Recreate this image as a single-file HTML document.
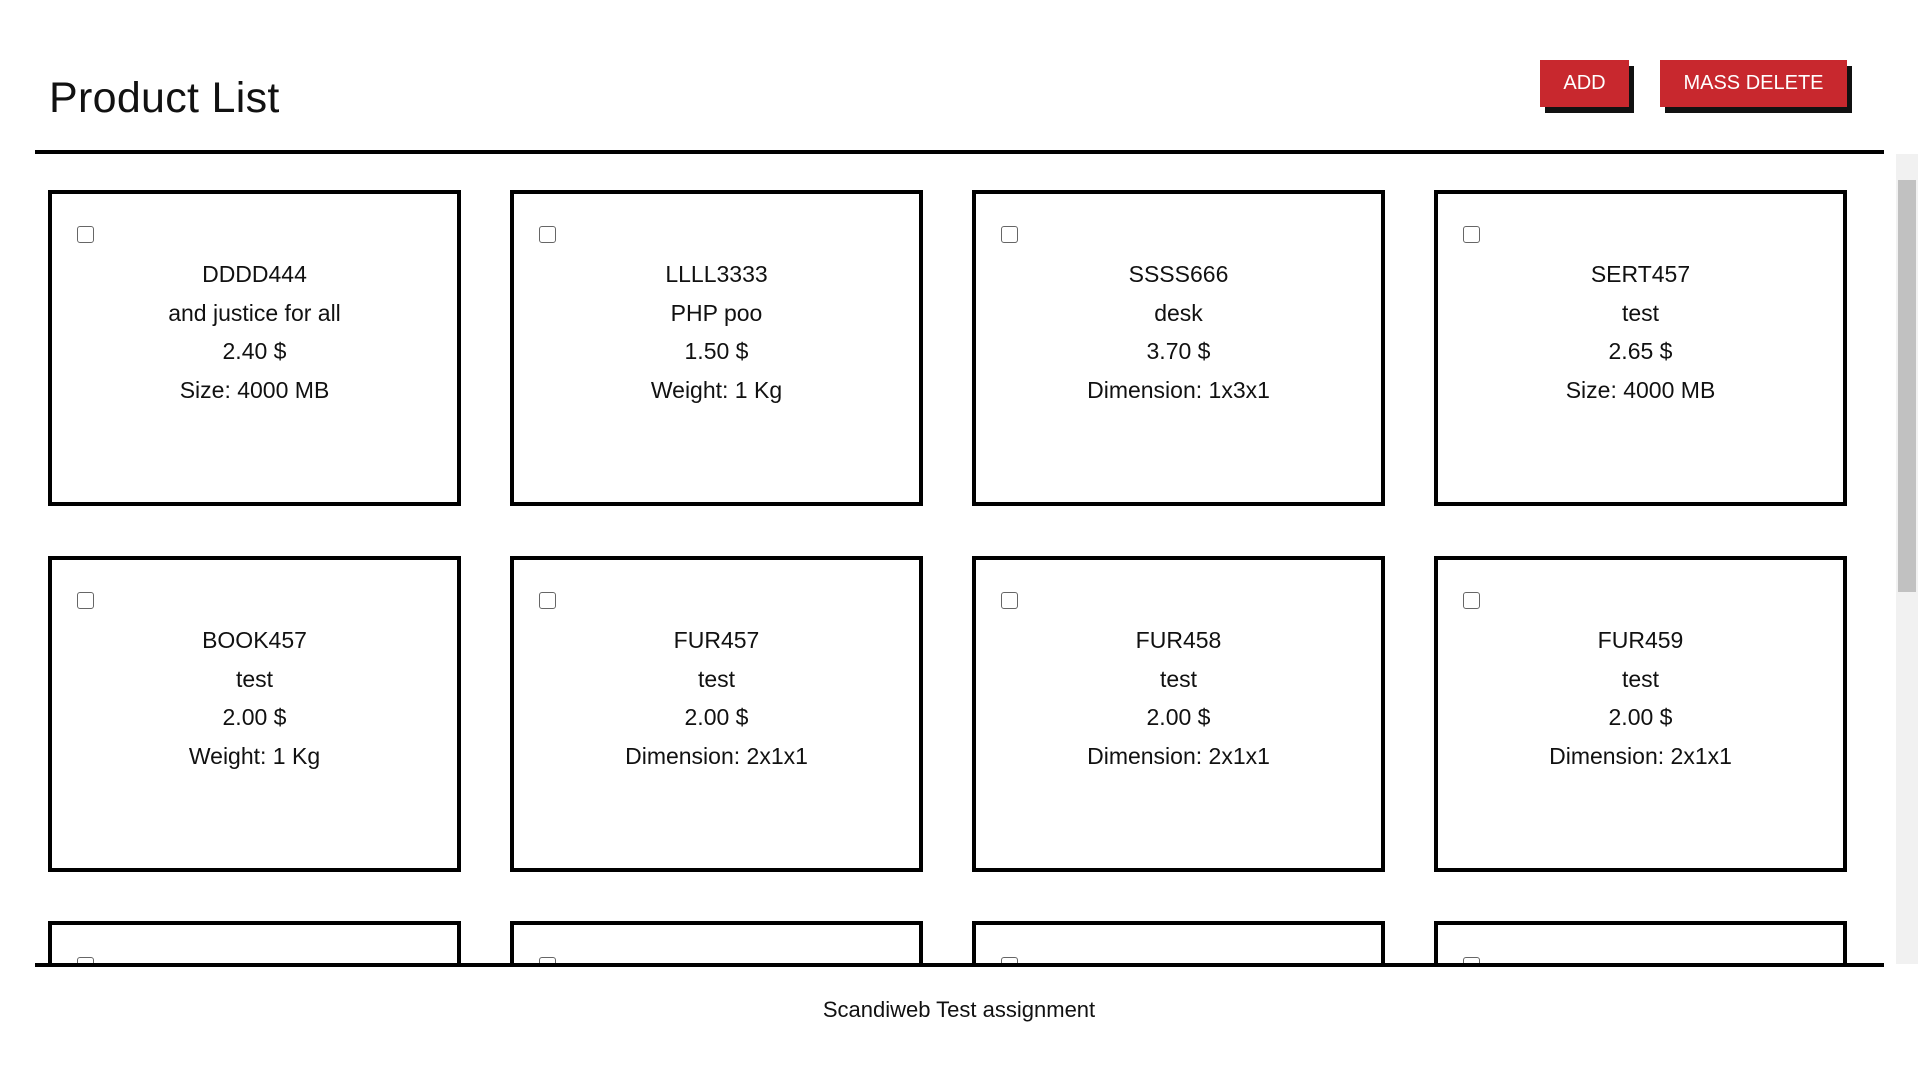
<!DOCTYPE html>
<html><head><meta charset="utf-8"><style>
*{margin:0;padding:0;box-sizing:border-box}
html,body{width:1918px;height:1072px;overflow:hidden}
body{background:#fff;font-family:"Liberation Sans",sans-serif;color:#111;position:relative}
h1{position:absolute;left:49px;top:74px;font-size:43px;font-weight:normal;letter-spacing:0.3px}
.btn{position:absolute;top:60px;height:47px;background:#c8282e;color:#fff;font-size:20px;line-height:47px;text-align:center;box-shadow:5px 6px 0 #111}
.line{position:absolute;left:35px;width:1849px;height:4px;background:#000}
.area{position:absolute;left:0;top:154px;width:1918px;height:810px;overflow:hidden}
.card{position:absolute;width:413px;height:316px;border:4px solid #000;background:#fff}
.cb{position:absolute;left:25px;top:32px;width:17px;height:17px;border:1.5px solid #666;border-radius:3px}
.txt{position:absolute;left:0;right:0;top:61px;text-align:center;font-size:23px;line-height:38.5px}
.sb{position:absolute;right:0;top:154px;width:22px;height:810px;background:#f1f1f1}
.thumb{position:absolute;left:2px;top:26px;width:18px;height:412px;background:#c1c1c1}
.footer{position:absolute;left:0;width:1918px;top:997px;text-align:center;font-size:22px}
</style></head><body>
<h1>Product List</h1>
<div class="btn" style="left:1540px;width:89px">ADD</div>
<div class="btn" style="left:1660px;width:187px">MASS DELETE</div>
<div class="line" style="top:150px"></div>
<div class="area">
<div class="card" style="left:48px;top:36px"><div class="cb"></div><div class="txt">DDDD444<br>and justice for all<br>2.40 $<br>Size: 4000 MB</div></div>
<div class="card" style="left:510px;top:36px"><div class="cb"></div><div class="txt">LLLL3333<br>PHP poo<br>1.50 $<br>Weight: 1 Kg</div></div>
<div class="card" style="left:972px;top:36px"><div class="cb"></div><div class="txt">SSSS666<br>desk<br>3.70 $<br>Dimension: 1x3x1</div></div>
<div class="card" style="left:1434px;top:36px"><div class="cb"></div><div class="txt">SERT457<br>test<br>2.65 $<br>Size: 4000 MB</div></div>
<div class="card" style="left:48px;top:402px"><div class="cb"></div><div class="txt">BOOK457<br>test<br>2.00 $<br>Weight: 1 Kg</div></div>
<div class="card" style="left:510px;top:402px"><div class="cb"></div><div class="txt">FUR457<br>test<br>2.00 $<br>Dimension: 2x1x1</div></div>
<div class="card" style="left:972px;top:402px"><div class="cb"></div><div class="txt">FUR458<br>test<br>2.00 $<br>Dimension: 2x1x1</div></div>
<div class="card" style="left:1434px;top:402px"><div class="cb"></div><div class="txt">FUR459<br>test<br>2.00 $<br>Dimension: 2x1x1</div></div>
<div class="card" style="left:48px;top:767px"><div class="cb"></div></div>
<div class="card" style="left:510px;top:767px"><div class="cb"></div></div>
<div class="card" style="left:972px;top:767px"><div class="cb"></div></div>
<div class="card" style="left:1434px;top:767px"><div class="cb"></div></div>
</div>
<div class="sb"><div class="thumb"></div></div>
<div class="line" style="top:963px"></div>
<div class="footer">Scandiweb Test assignment</div>
</body></html>
